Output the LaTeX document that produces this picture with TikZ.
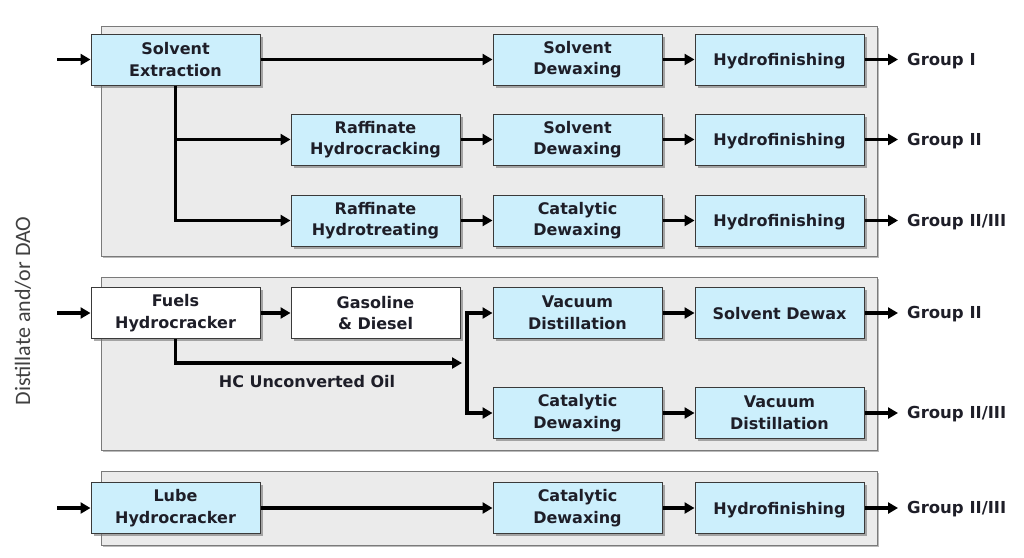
\documentclass[tikz,border=0pt]{standalone}
\usepackage{fontspec}
\setmainfont{DejaVu Sans}
\newfontfamily\vertfont{Carlito}
\usetikzlibrary{arrows.meta,shadows}
\definecolor{boxblue}{HTML}{CCEFFC}
\definecolor{panelgrey}{HTML}{EBEBEB}
\definecolor{panelline}{HTML}{7A7A7A}
\definecolor{boxline}{HTML}{3A3A3A}
\definecolor{txt}{HTML}{1E1E28}
\tikzset{
  panel/.style={draw=panelline, line width=1pt, fill=panelgrey,
    drop shadow={shadow xshift=2pt, shadow yshift=-2pt, fill=black!45, opacity=0.6}},
  proc/.style={draw=boxline, line width=1pt, fill=boxblue, minimum width=169pt,
    minimum height=51pt, inner sep=0pt, align=center, text=txt,
    font=\bfseries\fontsize{16}{21.5}\selectfont,
    drop shadow={shadow xshift=2.5pt, shadow yshift=-2.5pt, fill=black!55, opacity=0.6}},
  single/.style={text height=12pt, text depth=0pt},
  whiteproc/.style={proc, fill=white},
  grp/.style={anchor=west, inner sep=0pt, text=txt, font=\bfseries\fontsize{16.5}{19}\selectfont},
  flow/.style={line width=3.5pt, draw=black, -{Triangle[length=10pt,width=11pt]}},
}
\begin{document}
\begin{tikzpicture}[x=1pt,y=-1pt]
\useasboundingbox (0,0) rectangle (1024,557);
% panels
\node[panel, minimum width=776pt, minimum height=230pt, inner sep=0pt] (P1) at (489,141) {};
\node[panel, minimum width=776pt, minimum height=173pt, inner sep=0pt] (P2) at (489,363.5) {};
\node[panel, minimum width=776pt, minimum height=74pt, inner sep=0pt] (P3) at (489,508) {};
% panel 1
\node[proc] (SE) at (175.5,59.5) {Solvent\\Extraction};
\node[proc] (SD1) at (577.5,59.5) {Solvent\\Dewaxing};
\node[proc, single] (HF1) at (779.5,59.5) {Hydrofinishing};
\node[proc] (RHC) at (375.5,139.5) {Raffinate\\Hydrocracking};
\node[proc] (SD2) at (577.5,139.5) {Solvent\\Dewaxing};
\node[proc, single] (HF2) at (779.5,139.5) {Hydrofinishing};
\node[proc] (RHT) at (375.5,220.5) {Raffinate\\Hydrotreating};
\node[proc] (CD1) at (577.5,220.5) {Catalytic\\Dewaxing};
\node[proc, single] (HF3) at (779.5,220.5) {Hydrofinishing};
% panel 2
\node[whiteproc] (FH) at (175.5,313) {Fuels\\Hydrocracker};
\node[whiteproc] (GD) at (375.5,313) {Gasoline\\\& Diesel};
\node[proc] (VD1) at (577.5,313) {Vacuum\\Distillation};
\node[proc, single] (SDW) at (779.5,313) {Solvent Dewax};
\node[proc] (CD2) at (577.5,413) {Catalytic\\Dewaxing};
\node[proc] (VD2) at (779.5,413) {Vacuum\\Distillation};
\node[inner sep=0pt, text=txt, font=\bfseries\fontsize{16}{19}\selectfont] (HCU) at (307,382) {HC Unconverted Oil};
% panel 3
\node[proc] (LH) at (175.5,508) {Lube\\Hydrocracker};
\node[proc] (CD3) at (577.5,508) {Catalytic\\Dewaxing};
\node[proc, single] (HF4) at (779.5,508) {Hydrofinishing};
% outputs
\node[grp] (G1) at (907,61) {Group I};
\node[grp] (G2) at (907,141) {Group II};
\node[grp] (G3) at (907,222) {Group II/III};
\node[grp] (G4) at (907,314) {Group II};
\node[grp] (G5) at (907,414) {Group II/III};
\node[grp] (G6) at (907,509) {Group II/III};
% inputs
\coordinate (in1) at (57,59.5);
\coordinate (in2) at (57,313);
\coordinate (in3) at (57,508);
\draw[flow] (in1) -- (SE.west);
\draw[flow] (in2) -- (FH.west);
\draw[flow] (in3) -- (LH.west);
% vertical label
\node[rotate=90, inner sep=0pt, text=black!75, font=\vertfont\fontsize{22}{24}\selectfont] (DL) at (23,311) {Distillate and/or DAO};
% panel 1 flows
\draw[flow] (SE.east) -- (SD1.west);
\draw[flow] (SD1.east) -- (HF1.west);
\draw[flow] (HF1.east) -- ([xshift=-9pt]G1.west |- HF1.east);
\draw[flow] (SE.south) |- (RHT.west);
\draw[flow] (SE.south) |- (RHC.west);
\draw[flow] (RHC.east) -- (SD2.west);
\draw[flow] (SD2.east) -- (HF2.west);
\draw[flow] (HF2.east) -- ([xshift=-9pt]G2.west |- HF2.east);
\draw[flow] (RHT.east) -- (CD1.west);
\draw[flow] (CD1.east) -- (HF3.west);
\draw[flow] (HF3.east) -- ([xshift=-9pt]G3.west |- HF3.east);
% panel 2 flows
\coordinate (b1) at (467,313);
\coordinate (bm) at (462,363);
\draw[flow] (FH.east) -- (GD.west);
\draw[flow] (FH.south) |- (bm);
\draw[line width=3.5pt, {Triangle[length=10pt,width=11pt]}-{Triangle[length=10pt,width=11pt]}] (VD1.west) -- (b1) |- (CD2.west);
\draw[flow] (VD1.east) -- (SDW.west);
\draw[flow] (SDW.east) -- ([xshift=-9pt]G4.west |- SDW.east);
\draw[flow] (CD2.east) -- (VD2.west);
\draw[flow] (VD2.east) -- ([xshift=-9pt]G5.west |- VD2.east);
% panel 3 flows
\draw[flow] (LH.east) -- (CD3.west);
\draw[flow] (CD3.east) -- (HF4.west);
\draw[flow] (HF4.east) -- ([xshift=-9pt]G6.west |- HF4.east);
\end{tikzpicture}
\end{document}
